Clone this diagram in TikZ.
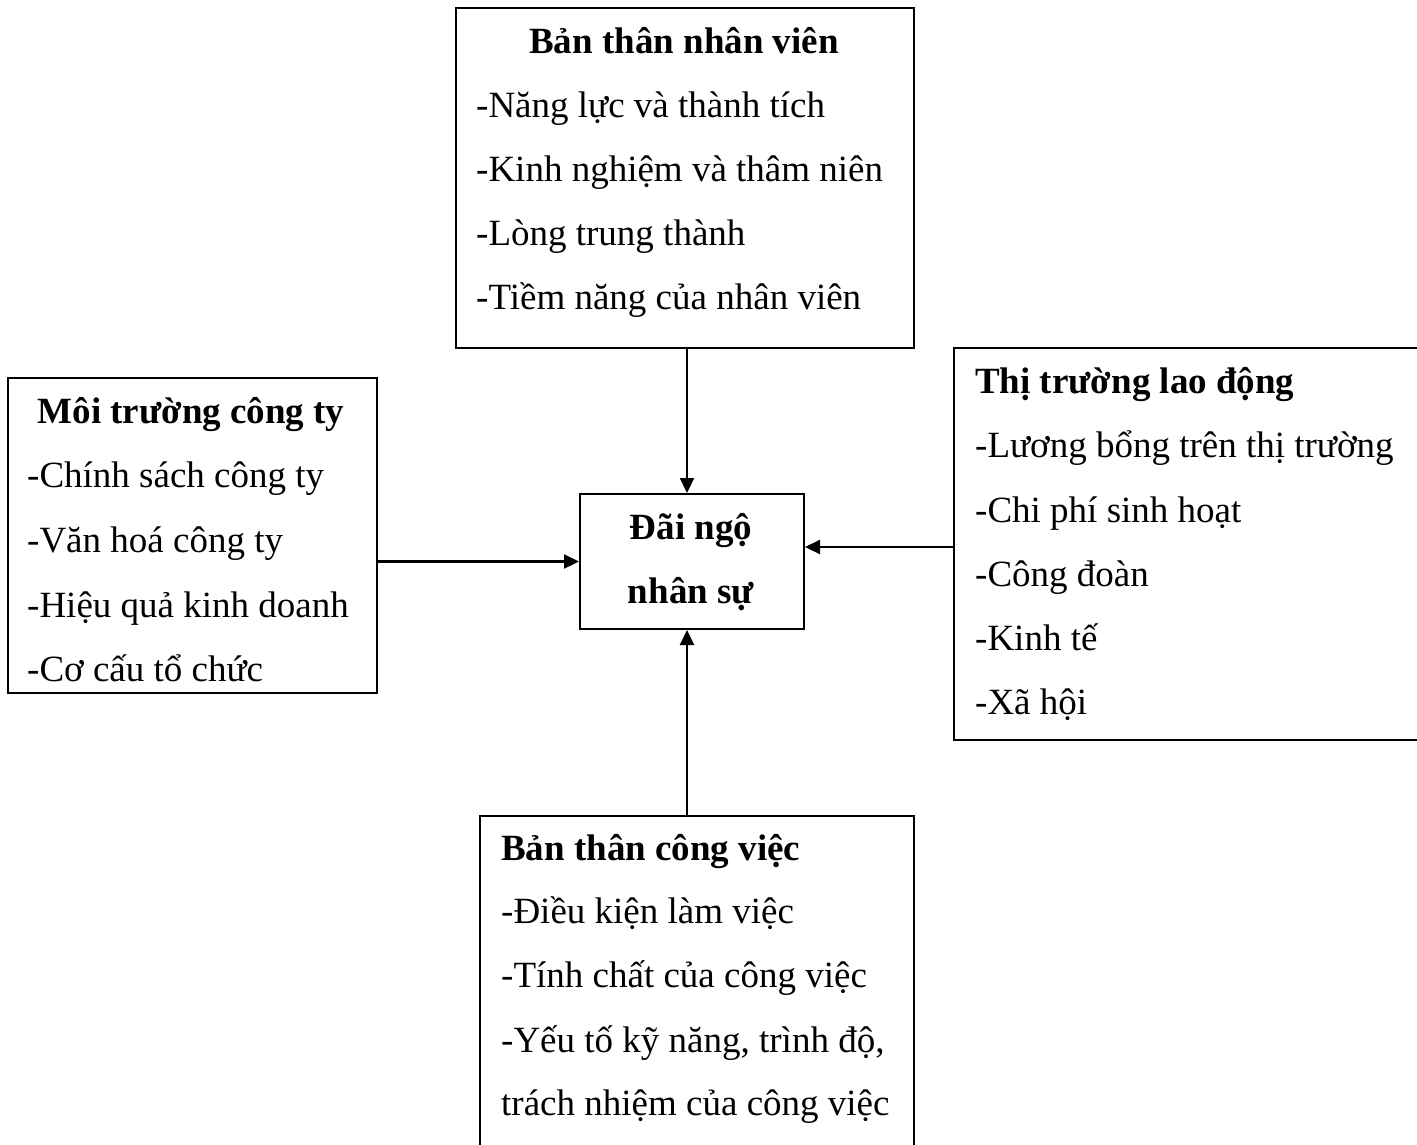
\documentclass[tikz,border=0pt]{standalone}
\usepackage{fontspec}
\setmainfont{Liberation Serif}
\usetikzlibrary{arrows.meta}
\begin{document}
\begin{tikzpicture}[x=1pt,y=-1pt,
  box/.style={draw=black,line width=2pt,inner sep=0pt,anchor=north west},
  txt/.style={inner sep=0pt,anchor=base west,font=\fontsize{37}{64}\selectfont},
  ttl/.style={txt,font=\fontsize{37}{64}\selectfont\bfseries},
  arr/.style={line width=2.2pt,-{Triangle[length=15pt,width=14pt]}}]
\useasboundingbox (0,0) rectangle (1417,1144);
\clip (0,0) rectangle (1417,1144);
% boxes
\node[box,minimum width=458pt,minimum height=340pt] (top) at (455,7) {};
\node[box,minimum width=369pt,minimum height=315pt] (left) at (7,377) {};
\node[box,minimum width=224pt,minimum height=135pt] (center) at (579,493) {};
\node[box,minimum width=480pt,minimum height=392pt] (right) at (953,347) {};
\node[box,minimum width=434pt,minimum height=360pt] (bottom) at (479,815) {};
% top texts
\node[ttl,anchor=base] (t0) at (684,53) {Bản thân nhân viên};
\node[txt] (t1) at (476,117) {-Năng lực và thành tích};
\node[txt] (t2) at (476,181) {-Kinh nghiệm và thâm niên};
\node[txt] (t3) at (476,245) {-Lòng trung thành};
\node[txt] (t4) at (476,309) {-Tiềm năng của nhân viên};
% left texts
\node[ttl,anchor=base] (l0) at (191,423) {Môi trường công ty};
\node[txt] (l1) at (27,487) {-Chính sách công ty};
\node[txt] (l2) at (27,552) {-Văn hoá công ty};
\node[txt] (l3) at (27,617) {-Hiệu quả kinh doanh};
\node[txt] (l4) at (27,681) {-Cơ cấu tổ chức};
% right texts
\node[ttl] (r0) at (975,393) {Thị trường lao động};
\node[txt] (r1) at (975,457) {-Lương bổng trên thị trường};
\node[txt] (r2) at (975,522) {-Chi phí sinh hoạt};
\node[txt] (r3) at (975,586) {-Công đoàn};
\node[txt] (r4) at (975,650) {-Kinh tế};
\node[txt] (r5) at (975,714) {-Xã hội};
% bottom texts
\node[ttl] (b0) at (501,860) {Bản thân công việc};
\node[txt] (b1) at (501,923) {-Điều kiện làm việc};
\node[txt] (b2) at (501,987) {-Tính chất của công việc};
\node[txt] (b3) at (501,1052) {-Yếu tố kỹ năng, trình độ,};
\node[txt] (b4) at (501,1115) {trách nhiệm của công việc};
% center texts
\node[ttl,anchor=base] (c1) at (691,539) {Đãi ngộ};
\node[ttl,anchor=base] (c2) at (691,603) {nhân sự};
% arrows
\coordinate (ax) at (687,0);
\draw[arr] (top.south -| ax) -- (center.north -| ax);
\draw[arr] (bottom.north -| ax) -- (center.south -| ax);
\draw[arr] (left.east |- center.west) -- (center.west);
\coordinate (ry) at (0,547);
\draw[arr] (right.west |- ry) -- (center.east |- ry);
\end{tikzpicture}
\end{document}
